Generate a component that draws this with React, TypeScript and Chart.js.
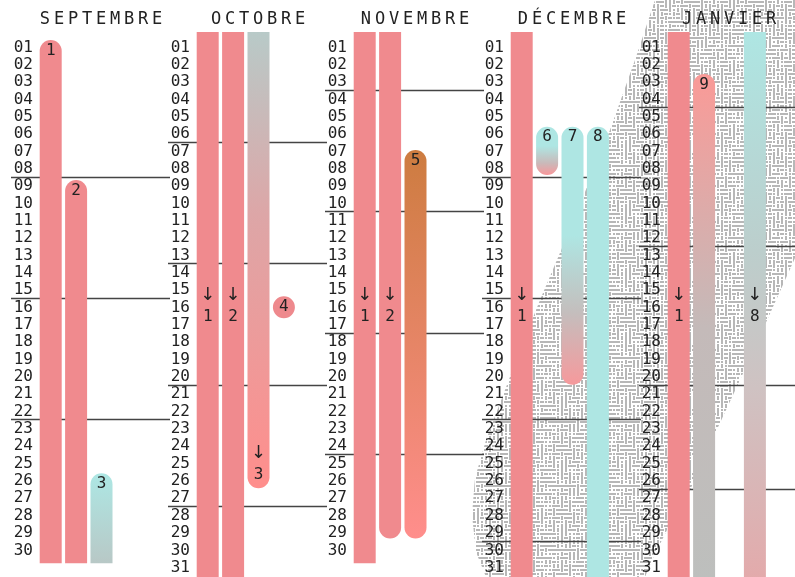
import React, { useEffect, useRef } from 'react';
import { Chart, registerables } from 'chart.js';

Chart.register(...registerables);

// ---------- data ----------
const MONTHS = ['SEPTEMBRE', 'OCTOBRE', 'NOVEMBRE', 'DÉCEMBRE', 'JANVIER'];
const DAYS_IN_MONTH = [30, 31, 30, 31, 31];
// day after which a week separator is drawn
const WEEK_BREAKS = [
  [8, 15, 22],
  [6, 13, 20, 27],
  [3, 10, 17, 24],
  [8, 15, 22, 29],
  [4, 12, 20, 26],
];
const SLOTS = ['1', '2', '3', '4', '5'];

type Bar = { event: string; slot: number; start: number | null; end: number | null; arrowDay?: number };
// start/end in days of the month; null = continues from previous / into next month
const SEPTEMBRE_BARS: Bar[] = [
  { event: '1', slot: 1, start: 0.57, end: null },
  { event: '2', slot: 2, start: 8.64, end: null },
  { event: '3', slot: 3, start: 25.56, end: null },
];
const OCTOBRE_BARS: Bar[] = [
  { event: '1', slot: 1, start: null, end: null },
  { event: '2', slot: 2, start: null, end: null },
  { event: '3', slot: 3, start: null, end: 26.42, arrowDay: 24.4 },
  { event: '4', slot: 4, start: 15.34, end: 16.61 },
];
const NOVEMBRE_BARS: Bar[] = [
  { event: '1', slot: 1, start: null, end: null },
  { event: '2', slot: 2, start: null, end: 29.31 },
  { event: '5', slot: 3, start: 6.91, end: 29.31 },
];
const DECEMBRE_BARS: Bar[] = [
  { event: '1', slot: 1, start: null, end: null },
  { event: '6', slot: 2, start: 5.57, end: 8.35 },
  { event: '7', slot: 3, start: 5.57, end: 20.45 },
  { event: '8', slot: 4, start: 5.57, end: null },
];
const JANVIER_BARS: Bar[] = [
  { event: '1', slot: 1, start: null, end: null },
  { event: '9', slot: 2, start: 2.53, end: null },
  { event: '8', slot: 4, start: null, end: null },
];
const MONTH_BARS = [SEPTEMBRE_BARS, OCTOBRE_BARS, NOVEMBRE_BARS, DECEMBRE_BARS, JANVIER_BARS];

// ---------- styles ----------
const FONT = "'DejaVu Sans Mono', monospace";
const ARROW_FONT = "'DejaVu Sans', sans-serif";
const PINK = '#F08A8E';
const CYAN = '#AEE6E3';
type Stops = [number, string][];
const FILLS: Record<string, Stops> = {
  '0-3': [[0, '#ADE7E4'], [1, '#B8C8C6']],
  '1-3': [[0, '#B8CAC8'], [0.4, '#DDA6A7'], [1, '#FF8E8C']],
  '1-4': [[0, '#EE898D']],
  '2-5': [[0, '#CD7C40'], [1, '#FF8E8C']],
  '3-6': [[0, CYAN], [0.4, CYAN], [0.75, '#C9BABA'], [1, '#F8979A']],
  '3-7': [[0, CYAN], [0.42, CYAN], [0.72, '#C4BEBD'], [1, '#F6999C']],
  '3-8': [[0, CYAN]],
  '4-9': [[0, '#FA9A97'], [0.5, '#C4BAB9'], [1, '#BDBFBD']],
  '4-8': [[0, CYAN], [0.4, '#BCCECC'], [0.65, '#CFC2C2'], [1, '#E3AAAB']],
};

const COL_LEFT = 8;
const COL_STEP = 157;
const CANVAS_W = 162;
const CANVAS_H = 600;
const AXIS_W = 30;
const PAD_TOP = 40;
const PAD_BOTTOM = 20;
const PX_PER_DAY = 17.34;
const DAY1_PX = 47.5;
const Y_MIN = 1 - (DAY1_PX - PAD_TOP) / PX_PER_DAY;
const Y_MAX = Y_MIN + (CANVAS_H - PAD_TOP - PAD_BOTTOM) / PX_PER_DAY;
const CONT_START = 0.1;
const CONT_OVER = 0.75;
const ARROW_DAY = 15.27;
const RADIUS = 11;

const TEXTURE_POLY: [number, number][] = [
  [655, 0], [795, 0], [795, 258], [768, 318], [740, 380], [712, 440], [690, 490],
  [668, 528], [652, 560], [645, 577], [486, 577], [476, 552], [472, 515], [475, 478],
  [486, 440], [505, 390], [522, 345], [540, 300], [562, 248], [583, 197], [610, 130],
  [635, 60],
];

let tileCache: HTMLCanvasElement | null = null;
function getTile() {
  if (tileCache) return tileCache;
  const c = document.createElement('canvas');
  const N = 64;
  c.width = N;
  c.height = N;
  const g = c.getContext('2d')!;
  g.fillStyle = '#ffffff';
  g.fillRect(0, 0, N, N);
  g.fillStyle = '#b7b7b7';
  for (let j = 0; j < N / 4; j++) {
    for (let i = 0; i < N / 4; i++) {
      const h = (((i * 73856093) ^ (j * 19349663) ^ ((i + j) * 83492791)) >>> 0) % 5;
      const x = i * 4;
      const y = j * 4;
      if (h < 2) g.fillRect(x, y + 1, 4, 2);
      else if (h < 4) g.fillRect(x + 1, y, 2, 4);
      else g.fillRect(x + 1, y + 1, 2, 2);
    }
  }
  tileCache = c;
  return c;
}

function MonthChart({ index }: { index: number }) {
  const ref = useRef<HTMLCanvasElement>(null);
  useEffect(() => {
    const canvas = ref.current!;
    const bars = MONTH_BARS[index];
    const days = DAYS_IN_MONTH[index];
    const startOf = (b: Bar) => (b.start === null ? CONT_START : b.start);
    const endOf = (b: Bar) => (b.end === null ? days + CONT_OVER : b.end);
    const pageLeft = COL_LEFT + index * COL_STEP;
    const dayValues = Array.from({ length: days }, (_, i) => i + 1);

    const texturePlugin = {
      id: 'texture',
      beforeDraw(chart: any) {
        const ctx = chart.ctx;
        ctx.save();
        ctx.beginPath();
        const x0 = index === 0 ? 0 : CANVAS_W - COL_STEP;
        ctx.rect(x0, 0, chart.width, chart.height);
        ctx.clip();
        ctx.translate(-pageLeft, 0);
        ctx.beginPath();
        TEXTURE_POLY.forEach(([x, y], i) => (i ? ctx.lineTo(x, y) : ctx.moveTo(x, y)));
        ctx.closePath();
        ctx.fillStyle = ctx.createPattern(getTile(), 'repeat');
        ctx.fill();
        ctx.restore();
      },
    };

    const weekPlugin = {
      id: 'weeks',
      beforeDatasetsDraw(chart: any) {
        const ctx = chart.ctx;
        const ys = chart.scales.y;
        ctx.save();
        ctx.strokeStyle = '#444';
        ctx.lineWidth = 1.3;
        WEEK_BREAKS[index].forEach((d) => {
          const y = Math.round(ys.getPixelForValue(d + 0.5)) - 0.5;
          ctx.beginPath();
          ctx.moveTo(3, y);
          ctx.lineTo(chart.width, y);
          ctx.stroke();
        });
        ctx.restore();
      },
    };

    const labelPlugin = {
      id: 'barLabels',
      afterDatasetsDraw(chart: any) {
        const ctx = chart.ctx;
        const ys = chart.scales.y;
        const meta = chart.getDatasetMeta(0);
        ctx.save();
        ctx.fillStyle = '#222';
        ctx.textAlign = 'center';
        ctx.textBaseline = 'middle';
        bars.forEach((b, i) => {
          const el = meta.data[i];
          if (!el) return;
          const x = el.x;
          if (b.start !== null) {
            const top = ys.getPixelForValue(startOf(b));
            const bottom = ys.getPixelForValue(endOf(b));
            const y = bottom - top < 26 ? (top + bottom) / 2 : top + 10.5;
            ctx.font = `16px ${FONT}`;
            ctx.fillText(b.event, x, y);
          } else {
            const a = b.arrowDay !== undefined ? b.arrowDay : ARROW_DAY;
            ctx.font = `18px ${ARROW_FONT}`;
            ctx.fillText('↓', x, ys.getPixelForValue(a));
            ctx.font = `16px ${FONT}`;
            ctx.fillText(b.event, x, ys.getPixelForValue(a + 1.25));
          }
        });
        ctx.restore();
      },
    };

    const titlePlugin = {
      id: 'monthTitle',
      afterDraw(chart: any) {
        const ctx = chart.ctx;
        const area = chart.chartArea;
        ctx.save();
        ctx.font = `17px ${FONT}`;
        (ctx as any).letterSpacing = '3.8px';
        ctx.fillStyle = '#222';
        ctx.textAlign = 'center';
        ctx.textBaseline = 'middle';
        ctx.fillText(MONTHS[index], (area.left + area.right) / 2 + 1.5, 20);
        ctx.restore();
      },
    };

    const chart = new Chart(canvas, {
      type: 'bar',
      data: {
        labels: SLOTS,
        datasets: [
          {
            data: bars.map((b) => ({ x: SLOTS[b.slot - 1], y: [startOf(b), endOf(b)] })) as any,
            borderSkipped: false,
            borderWidth: 0,
            barPercentage: 1,
            categoryPercentage: 22 / 25.4,
            clip: false as any,
            borderRadius: (c: any) => {
              const b = bars[c.dataIndex];
              if (!b) return 0;
              const t = b.start !== null ? RADIUS : 0;
              const bo = b.end !== null ? RADIUS : 0;
              return { topLeft: t, topRight: t, bottomLeft: bo, bottomRight: bo };
            },
            backgroundColor: (c: any) => {
              const b = bars[c.dataIndex];
              if (!b) return PINK;
              const stops = FILLS[`${index}-${b.event}`];
              if (!stops) return PINK;
              if (stops.length === 1) return stops[0][1];
              const ch = c.chart;
              const ys = ch.scales.y;
              if (!ys || !ch.chartArea) return stops[0][1];
              const y0 = ys.getPixelForValue(startOf(b));
              const y1 = ys.getPixelForValue(endOf(b));
              if (!isFinite(y0) || !isFinite(y1)) return stops[0][1];
              const g = ch.ctx.createLinearGradient(0, y0, 0, y1);
              stops.forEach(([o, col]) => g.addColorStop(o, col));
              return g;
            },
          },
        ],
      },
      options: {
        responsive: false,
        animation: false,
        events: [],
        layout: { padding: { top: PAD_TOP, bottom: PAD_BOTTOM, left: 0, right: CANVAS_W - COL_STEP } },
        plugins: {
          legend: { display: false },
          tooltip: { enabled: false },
          title: { display: false },
        },
        scales: {
          x: { type: 'category', display: false, offset: true },
          y: {
            type: 'linear',
            reverse: true,
            min: Y_MIN,
            max: Y_MAX,
            grid: { display: false, drawTicks: false },
            border: { display: false },
            afterFit: (s: any) => {
              s.width = AXIS_W;
            },
            afterBuildTicks: (s: any) => {
              s.ticks = dayValues.map((v) => ({ value: v }));
            },
            ticks: {
              autoSkip: false,
              padding: 5,
              color: '#222',
              font: { family: FONT, size: 16 },
              callback: (v: any) => String(v).padStart(2, '0'),
            },
          },
        },
      },
      plugins: [texturePlugin, weekPlugin, labelPlugin, titlePlugin],
    });
    return () => chart.destroy();
  }, [index]);

  return (
    <canvas
      ref={ref}
      width={CANVAS_W}
      height={CANVAS_H}
      style={{ position: 'absolute', left: COL_LEFT + index * COL_STEP, top: 0, width: CANVAS_W, height: CANVAS_H }}
    />
  );
}

export default function App() {
  return (
    <div
      style={{
        position: 'fixed',
        left: 0,
        top: 0,
        width: 795,
        height: 577,
        overflow: 'hidden',
        background: '#fff',
      }}
    >
      {MONTHS.map((m, i) => (
        <MonthChart key={m} index={i} />
      ))}
    </div>
  );
}
